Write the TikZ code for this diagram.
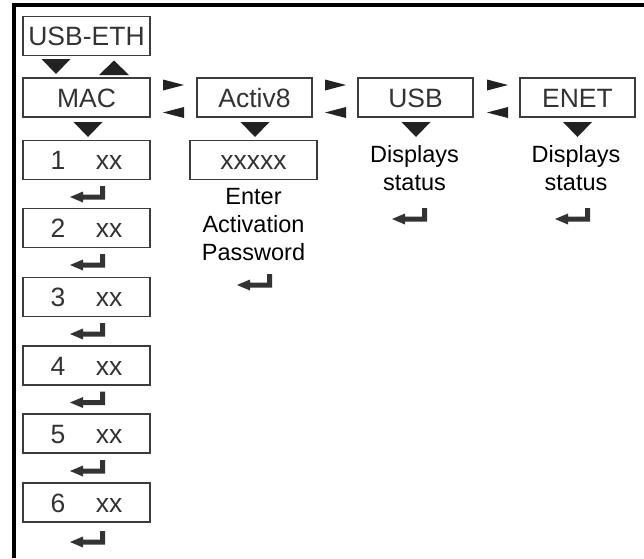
\documentclass[tikz,border=0pt]{standalone}
\usepackage{fontspec}
\setmainfont{Liberation Sans}
\definecolor{boxgray}{HTML}{3C3C3C}
\definecolor{textgray}{HTML}{333333}
\definecolor{trigray}{HTML}{222222}
\definecolor{entergray}{HTML}{333333}
\begin{document}
\begin{tikzpicture}[x=1pt,y=-1pt,
  box/.style={draw=boxgray, line width=1.4pt, inner sep=0pt, text=textgray,
    font=\fontsize{26.5}{31}\selectfont, text height=19pt, text depth=0pt},
  menubox/.style={box, minimum width=127pt, minimum height=39pt},
  subbox/.style={box, minimum width=115pt, minimum height=39pt},
  lbl/.style={inner sep=0pt, align=center, font=\fontsize{23.5}{28}\selectfont, anchor=north, text=black},
  dtri/.pic={\fill[trigray] (-14.5,0) -- (14.5,0) -- (0,15) -- cycle;},
  utri/.pic={\fill[trigray] (-15,0) -- (15,0) -- (0,-14.5) -- cycle;},
  rtri/.pic={\fill[trigray] (0,-5.5) -- (21,0) -- (0,5.5) -- cycle;},
  ltri/.pic={\fill[trigray] (21,-5.5) -- (0,0) -- (21,5.5) -- cycle;},
  enterkey/.pic={\fill[entergray] (0,0) -- (0,13.5) -- (-22,13.5) -- (-22,16.5) -- (-35,11)
     -- (-22,5.5) -- (-22,8.5) -- (-5,8.5) -- (-5,0) -- cycle;}
]
\useasboundingbox (0,0) rectangle (644,558);
% frame
\draw[line width=4pt, black] (644,4.5) -- (13.5,4.5) -- (13.5,558);

% top and menu boxes
\node[menubox] (usbeth) at (86.5,36) {USB-ETH};
\node[menubox] (mac) at (86.5,97.5) {MAC};
\node[subbox] (activ) at (254.5,97.5) {Activ8};
\node[subbox] (usb) at (415.5,97.5) {USB};
\node[subbox] (enet) at (577.5,97.5) {ENET};

% MAC list
\node[menubox] (m1) at (86.5,160) {1\hspace{1.15em}xx};
\node[menubox] (m2) at (86.5,228) {2\hspace{1.15em}xx};
\node[menubox] (m3) at (86.5,297) {3\hspace{1.15em}xx};
\node[menubox] (m4) at (86.5,365.5) {4\hspace{1.15em}xx};
\node[menubox] (m5) at (86.5,433.5) {5\hspace{1.15em}xx};
\node[menubox] (m6) at (86.5,502.5) {6\hspace{1.15em}xx};

% Activ8 entry
\node[menubox] (pw) at (253.5,160) {xxxxx};
\node[lbl] (pwtext) at (253.5,188) {Enter\\Activation\\Password};

% status labels
\node[lbl] (usbtext) at (414.5,145.5) {Displays\\status};
\node[lbl] (enettext) at (576,145.5) {Displays\\status};

% triangles
\pic at (56,59) {dtri};
\pic at (114,75) {utri};
\pic at (88,122) {dtri};
\pic at (255,122) {dtri};
\pic at (416,122) {dtri};
\pic at (577.5,122) {dtri};
\pic at (163,85) {rtri};
\pic at (163,112.5) {ltri};
\pic at (325,85) {rtri};
\pic at (325,112.5) {ltri};
\pic at (487,85) {rtri};
\pic at (487,112.5) {ltri};

% enter keys
\pic at (105,186) {enterkey};
\pic at (105,254) {enterkey};
\pic at (105,323) {enterkey};
\pic at (105,391.5) {enterkey};
\pic at (105,460) {enterkey};
\pic at (105,531) {enterkey};
\pic at (272,274) {enterkey};
\pic at (427,208) {enterkey};
\pic at (590,208) {enterkey};
\end{tikzpicture}
\end{document}
